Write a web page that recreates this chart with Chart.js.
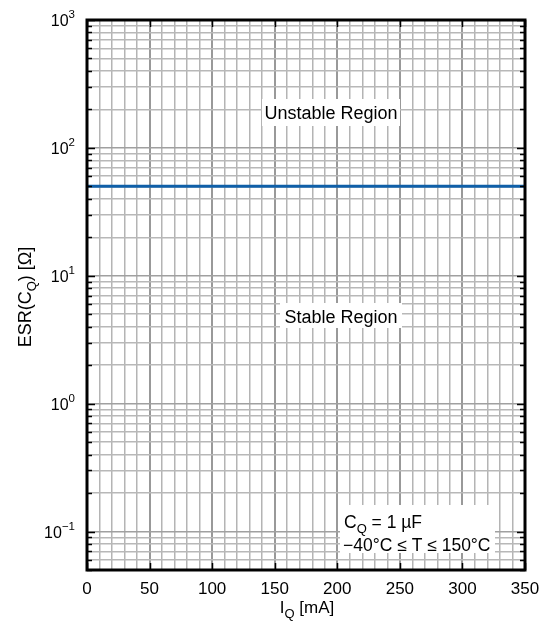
<!DOCTYPE html>
<html>
<head>
<meta charset="utf-8">
<script src="https://cdn.jsdelivr.net/npm/chart.js@4/dist/chart.umd.min.js"></script>
<style>
  html, body { margin: 0; padding: 0; background: #fff; }
  canvas { display: block; }
</style>
</head>
<body>
<canvas id="chart" width="548" height="622"></canvas>
<script>
// data
const currentMa = [0, 350];
const esrOhm = [50, 50];

const xTickStep = 10;
const xLabelStep = 50;
const yDecades = [-1, 0, 1, 2, 3];
const yLabels = ['−1', '0', '1', '2', '3'];
const yMin = 0.05;
const yMax = 1000;

const FONT = '"Liberation Sans", Arial, Helvetica, sans-serif';

// draw text made of runs (for sub / superscripts)
const drawRuns = (ctx, runs, x, y, align) => {
  let total = 0;
  runs.forEach((r) => {
    ctx.font = r.size + 'px ' + FONT;
    r.w = ctx.measureText(r.t).width;
    total += r.w;
  });
  let cx = x;
  if (align === 'center') cx = x - total / 2;
  if (align === 'right') cx = x - total;
  ctx.textAlign = 'left';
  ctx.textBaseline = 'alphabetic';
  runs.forEach((r) => {
    ctx.font = r.size + 'px ' + FONT;
    ctx.fillText(r.t, cx, y + (r.dy || 0));
    cx += r.w;
  });
  return total;
};

const logTicks = () => {
  const out = [];
  for (let e = -2; e <= 3; e++) {
    for (let k = 1; k <= 9; k++) {
      const v = k * Math.pow(10, e);
      if (v >= yMin - 1e-9 && v <= yMax + 1e-9) out.push(+v.toPrecision(3));
    }
  }
  return out;
};

const isDecade = (v) => Math.abs(Math.log10(v) - Math.round(Math.log10(v))) < 1e-6;

const decor = {
  id: 'decor',
  afterDatasetsDraw(chart) {
    const { ctx, chartArea: a, scales } = chart;
    const xs = scales.x;
    const ys = scales.y;
    ctx.save();
    ctx.fillStyle = '#000';
    ctx.strokeStyle = '#000';

    // region labels with white boxes
    const box = (x0, y0, x1, y1) => {
      ctx.fillStyle = '#fff';
      ctx.fillRect(x0, y0, x1 - x0, y1 - y0);
      ctx.fillStyle = '#000';
    };
    box(262, 99, 400, 126);
    drawRuns(ctx, [{ t: 'Unstable Region', size: 18 }], 331, 119, 'center');
    box(280, 303, 402, 328);
    drawRuns(ctx, [{ t: 'Stable Region', size: 18 }], 341, 323, 'center');

    box(340, 505, 495, 553);
    drawRuns(ctx, [
      { t: 'C', size: 17.5 },
      { t: 'Q', size: 13, dy: 5 },
      { t: ' = 1 µF', size: 17.5 },
    ], 344, 528, 'left');
    drawRuns(ctx, [{ t: '−40°C ≤ T ≤ 150°C', size: 17.5 }], 343, 551, 'left');

    // tick marks (inward)
    ctx.lineWidth = 1.5;
    ctx.beginPath();
    ys.ticks.forEach((t) => {
      const py = Math.round(ys.getPixelForValue(t.value)) + 0.5;
      const len = isDecade(t.value) ? 8 : 5;
      ctx.moveTo(a.left, py); ctx.lineTo(a.left + len, py);
      ctx.moveTo(a.right, py); ctx.lineTo(a.right - len, py);
    });
    for (let v = 0; v <= 350; v += xLabelStep) {
      const px = Math.round(xs.getPixelForValue(v)) + 0.5;
      ctx.moveTo(px, a.bottom); ctx.lineTo(px, a.bottom - 7);
      ctx.moveTo(px, a.top); ctx.lineTo(px, a.top + 7);
    }
    ctx.stroke();

    // frame
    ctx.lineWidth = 3;
    ctx.strokeRect(a.left, a.top, a.right - a.left, a.bottom - a.top);

    // x tick labels
    ctx.fillStyle = '#000';
    for (let v = 0; v <= 350; v += xLabelStep) {
      drawRuns(ctx, [{ t: String(v), size: 17 }], xs.getPixelForValue(v), 594, 'center');
    }
    // y tick labels 10^n
    yDecades.forEach((e, i) => {
      const py = ys.getPixelForValue(Math.pow(10, e));
      drawRuns(ctx, [
        { t: '10', size: 16 },
        { t: yLabels[i], size: 11.5, dy: -8 },
      ], 75, py + 6, 'right');
    });

    // axis titles
    drawRuns(ctx, [
      { t: 'I', size: 17 },
      { t: 'Q', size: 13, dy: 5 },
      { t: ' [mA]', size: 17 },
    ], 307, 613, 'center');

    ctx.translate(31, 297);
    ctx.rotate(-Math.PI / 2);
    drawRuns(ctx, [
      { t: 'ESR(C', size: 18 },
      { t: 'Q', size: 13, dy: 5 },
      { t: ') [Ω]', size: 18 },
    ], 0, 0, 'center');
    ctx.restore();
  },
};

new Chart(document.getElementById('chart'), {
  type: 'line',
  data: {
    datasets: [{
      data: currentMa.map((x, i) => ({ x, y: esrOhm[i] })),
      borderColor: '#0f5fa8',
      borderWidth: 3,
      pointRadius: 0,
      fill: false,
    }],
  },
  options: {
    responsive: false,
    animation: false,
    devicePixelRatio: 1,
    layout: { padding: { top: 20, right: 23, left: 0, bottom: 0 } },
    plugins: { legend: { display: false }, tooltip: { enabled: false } },
    scales: {
      x: {
        type: 'linear',
        min: 0,
        max: 350,
        ticks: { display: false, stepSize: xTickStep },
        afterBuildTicks: (s) => {
          const t = [];
          for (let v = 0; v <= 350; v += xTickStep) t.push({ value: v });
          s.ticks = t;
        },
        afterFit: (s) => { s.height = 52; },
        border: { display: false },
        grid: {
          drawTicks: false,
          tickLength: 0,
          lineWidth: (c) => (c.tick && c.tick.value % xLabelStep === 0 ? 2 : 1.5),
          color: (c) => (c.tick && c.tick.value % xLabelStep === 0 ? '#999999' : '#b4b4b4'),
        },
      },
      y: {
        type: 'logarithmic',
        min: yMin,
        max: yMax,
        ticks: { display: false, autoSkip: false },
        afterBuildTicks: (s) => { s.ticks = logTicks().map((v) => ({ value: v })); },
        afterFit: (s) => { s.width = 87; },
        border: { display: false },
        grid: {
          drawTicks: false,
          tickLength: 0,
          lineWidth: 1.5,
          color: (c) => (c.tick && isDecade(c.tick.value) ? '#a0a0a0' : '#b8b8b8'),
        },
      },
    },
  },
  plugins: [decor],
});
</script>
</body>
</html>
